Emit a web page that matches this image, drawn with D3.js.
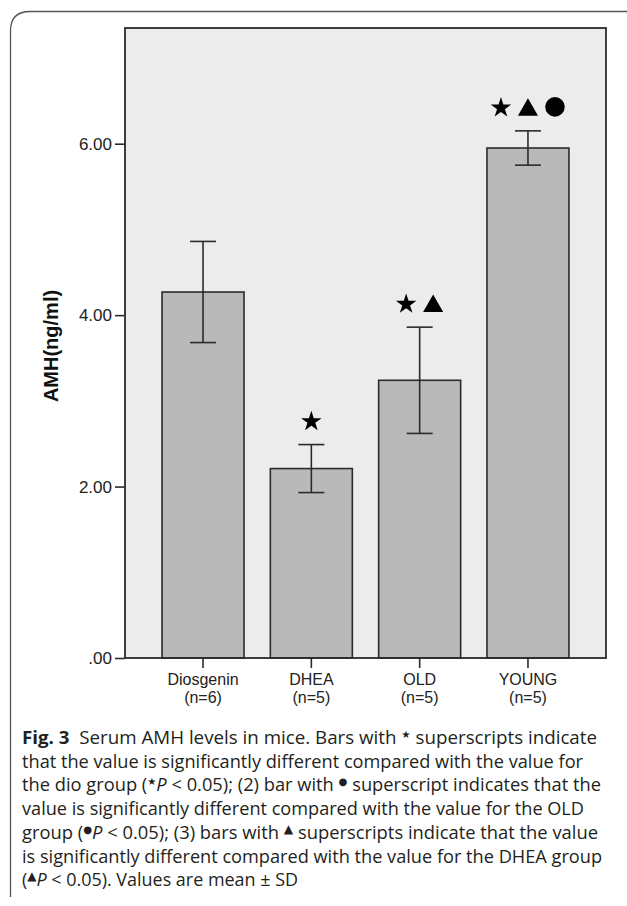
<!DOCTYPE html>
<html>
<head>
<meta charset="utf-8">
<script src="https://cdn.jsdelivr.net/npm/d3@7"></script>
<style>
  body { margin: 0; background: #fff; }
  svg { display: block; }
</style>
</head>
<body>
<div id="chart"></div>
<script>
// group data (mean +- SD, ng/ml)
var groups = ["Diosgenin", "DHEA", "OLD", "YOUNG"];
var nLabels = ["(n=6)", "(n=5)", "(n=5)", "(n=5)"];
var means = [4.27, 2.21, 3.24, 5.95];
var sds = [0.59, 0.28, 0.62, 0.20];
var marks = [[], ["star"], ["star", "triangle"], ["star", "triangle", "circle"]];
var yTicks = [0, 2, 4, 6];
var yTickLabels = [".00", "2.00", "4.00", "6.00"];
var yMax = 7.35;

var width = 627, height = 906;
var plot = {left: 125, right: 606, top: 28, bottom: 658};

var svg = d3.select("#chart").append("svg")
    .attr("width", width)
    .attr("height", height);

// outer rounded frame (only left + top are visible in the crop)
svg.append("path")
    .attr("d", "M10.5,897 L10.5,31 Q10.5,11.5 30,11.5 L627,11.5")
    .attr("fill", "none")
    .attr("stroke", "#555")
    .attr("stroke-width", 1.3);

var x = d3.scaleBand()
    .domain(groups)
    .range([plot.left, plot.right])
    .paddingInner(0.243)
    .paddingOuter(0.342);

var y = d3.scaleLinear()
    .domain([0, yMax])
    .range([plot.bottom, plot.top]);

var data = groups.map(function(g, i) {
    return {group: g, n: nLabels[i], mean: means[i], sd: sds[i], marks: marks[i]};
});

// plot background
svg.append("rect")
    .attr("x", plot.left)
    .attr("y", plot.top)
    .attr("width", plot.right - plot.left)
    .attr("height", plot.bottom - plot.top)
    .attr("fill", "#ececec");

// bars
svg.append("g").selectAll("rect")
    .data(data)
    .join("rect")
    .attr("x", function(d) { return x(d.group); })
    .attr("y", function(d) { return y(d.mean); })
    .attr("width", x.bandwidth())
    .attr("height", function(d) { return y(0) - y(d.mean); })
    .attr("fill", "#b9b9b9")
    .attr("stroke", "#2b2b2b")
    .attr("stroke-width", 1.6);

// error bars
var capW = 26;
var err = svg.append("g")
    .attr("stroke", "#2b2b2b")
    .attr("stroke-width", 1.6)
    .selectAll("g")
    .data(data)
    .join("g");

err.append("line")
    .attr("x1", function(d) { return x(d.group) + x.bandwidth() / 2; })
    .attr("x2", function(d) { return x(d.group) + x.bandwidth() / 2; })
    .attr("y1", function(d) { return y(d.mean - d.sd); })
    .attr("y2", function(d) { return y(d.mean + d.sd); });
err.append("line")
    .attr("x1", function(d) { return x(d.group) + x.bandwidth() / 2 - capW / 2; })
    .attr("x2", function(d) { return x(d.group) + x.bandwidth() / 2 + capW / 2; })
    .attr("y1", function(d) { return y(d.mean + d.sd); })
    .attr("y2", function(d) { return y(d.mean + d.sd); });
err.append("line")
    .attr("x1", function(d) { return x(d.group) + x.bandwidth() / 2 - capW / 2; })
    .attr("x2", function(d) { return x(d.group) + x.bandwidth() / 2 + capW / 2; })
    .attr("y1", function(d) { return y(d.mean - d.sd); })
    .attr("y2", function(d) { return y(d.mean - d.sd); });

// plot frame on top
svg.append("rect")
    .attr("x", plot.left)
    .attr("y", plot.top)
    .attr("width", plot.right - plot.left)
    .attr("height", plot.bottom - plot.top)
    .attr("fill", "none")
    .attr("stroke", "#2b2b2b")
    .attr("stroke-width", 1.8);

// y axis
var yAxis = svg.append("g")
    .attr("transform", "translate(" + plot.left + ",0)")
    .call(d3.axisLeft(y)
        .tickValues(yTicks)
        .tickFormat(function(d, i) { return yTickLabels[i]; })
        .tickSize(10)
        .tickPadding(3));
yAxis.select(".domain").remove();
yAxis.selectAll("line").attr("stroke", "#2b2b2b").attr("stroke-width", 1.6);
yAxis.selectAll("text")
    .attr("font-family", "'Liberation Sans', Arial, sans-serif")
    .attr("font-size", 17)
    .attr("fill", "#222");

// x axis with two-line labels
var xAxis = svg.append("g")
    .attr("transform", "translate(0," + plot.bottom + ")")
    .call(d3.axisBottom(x).tickSize(10).tickPadding(4));
xAxis.select(".domain").remove();
xAxis.selectAll("line").attr("stroke", "#2b2b2b").attr("stroke-width", 1.6);
xAxis.selectAll("text")
    .attr("font-family", "'Liberation Sans', Arial, sans-serif")
    .attr("font-size", 16)
    .attr("fill", "#222")
    .attr("y", 0)
    .attr("dy", null)
    .text(null)
    .each(function(d, i) {
        var t = d3.select(this);
        t.append("tspan").attr("x", 0).attr("y", 27).text(groups[i]);
        t.append("tspan").attr("x", 0).attr("y", 45).text(nLabels[i]);
    });

// y axis title
svg.append("text")
    .attr("transform", "translate(58,346) rotate(-90)")
    .attr("text-anchor", "middle")
    .attr("font-family", "'Liberation Sans', Arial, sans-serif")
    .attr("font-weight", "bold")
    .attr("font-size", 20)
    .attr("fill", "#111")
    .text("AMH(ng/ml)");

// significance marks above the error bars
var symbolTypes = {star: d3.symbolStar, triangle: d3.symbolTriangle, circle: d3.symbolCircle};
var symbolSizes = {star: 130, triangle: 175, circle: 300};
var symbolShift = {star: 1, triangle: 3, circle: 0};
var markGap = 27;
data.forEach(function(d) {
    var cx = x(d.group) + x.bandwidth() / 2;
    var cy = y(d.mean + d.sd) - 24;
    var n = d.marks.length;
    d.marks.forEach(function(m, j) {
        svg.append("path")
            .attr("d", d3.symbol().type(symbolTypes[m]).size(symbolSizes[m])())
            .attr("transform", "translate(" + (cx + (j - (n - 1) / 2) * markGap) + "," + (cy + symbolShift[m]) + ")")
            .attr("fill", "#000");
    });
});

// caption
var captionLines = [
    [{t: "Fig. 3", b: true}, {t: "  Serum AMH levels in mice. Bars with "}, {t: "\u2605", sup: true}, {t: " superscripts indicate"}],
    [{t: "that the value is significantly different compared with the value for"}],
    [{t: "the dio group ("}, {t: "\u2605", sup: true}, {t: "P", i: true}, {t: " < 0.05); (2) bar with "}, {t: "\u25CF", sup: true}, {t: " superscript indicates that the"}],
    [{t: "value is significantly different compared with the value for the OLD"}],
    [{t: "group ("}, {t: "\u25CF", sup: true}, {t: "P", i: true}, {t: " < 0.05); (3) bars with "}, {t: "\u25B2", sup: true}, {t: " superscripts indicate that the value"}],
    [{t: "is significantly different compared with the value for the DHEA group"}],
    [{t: "("}, {t: "\u25B2", sup: true}, {t: "P", i: true}, {t: " < 0.05). Values are mean \u00B1 SD"}]
];
var captionEnds = [597, 583, 601, 584, 598, 602, 298];
var capX = 22, capY0 = 744, capStep = 23.7;

captionLines.forEach(function(segs, li) {
    var text = svg.append("text")
        .attr("x", capX)
        .attr("y", capY0 + li * capStep)
        .attr("font-family", "'Open Sans', 'Noto Sans', sans-serif")
        .attr("font-size", 18)
        .attr("fill", "#231f20")
        .attr("xml:space", "preserve")
        .style("white-space", "pre");
    var raised = false;
    segs.forEach(function(s) {
        var ts = text.append("tspan").text(s.t);
        if (s.b) ts.attr("font-weight", "bold");
        if (s.i) ts.attr("font-style", "italic");
        if (s.sup) {
            ts.attr("font-family", "'DejaVu Sans', sans-serif")
              .attr("font-size", s.t === "\u25B2" ? 12 : 10)
              .attr("dy", -6);
            raised = true;
        } else if (raised) {
            ts.attr("dy", 6);
            raised = false;
        }
    });
    text.attr("textLength", captionEnds[li] - capX)
        .attr("lengthAdjust", "spacingAndGlyphs");
});
</script>
</body>
</html>
